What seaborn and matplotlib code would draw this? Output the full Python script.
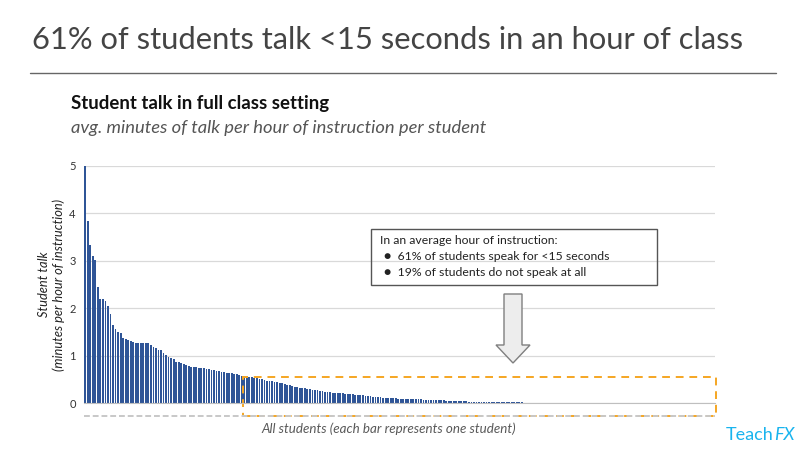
import numpy as np
import pandas as pd
import matplotlib
matplotlib.use("Agg")
import matplotlib.pyplot as plt
import seaborn as sns
from matplotlib.patches import Rectangle, Polygon

# minutes of talk per hour, one value per student (sorted)
talk = [
    5.00, 3.84, 3.33, 3.10, 3.02, 2.44, 2.20, 2.19, 2.16, 2.05,
    1.88, 1.65, 1.57, 1.50, 1.49, 1.37, 1.35, 1.34, 1.31, 1.29,
    1.28, 1.28, 1.28, 1.28, 1.28, 1.27, 1.22, 1.18, 1.17, 1.13,
    1.13, 1.06, 1.01, 0.97, 0.95, 0.94, 0.88, 0.86, 0.85, 0.82,
    0.80, 0.79, 0.77, 0.76, 0.76, 0.75, 0.74, 0.74, 0.73, 0.72,
    0.71, 0.70, 0.69, 0.68, 0.67, 0.65, 0.64, 0.64, 0.63, 0.62,
    0.61, 0.59, 0.58, 0.57, 0.57, 0.56, 0.55, 0.54, 0.53, 0.52,
    0.51, 0.49, 0.48, 0.47, 0.46, 0.45, 0.44, 0.43, 0.42, 0.41,
    0.39, 0.38, 0.36, 0.35, 0.34, 0.33, 0.33, 0.32, 0.31, 0.30,
    0.28, 0.27, 0.27, 0.26, 0.25, 0.24, 0.24, 0.23, 0.22, 0.22,
    0.21, 0.21, 0.21, 0.20, 0.20, 0.19, 0.19, 0.18, 0.18, 0.17,
    0.17, 0.16, 0.15, 0.15, 0.14, 0.14, 0.13, 0.13, 0.12, 0.12,
    0.11, 0.11, 0.11, 0.11, 0.10, 0.10, 0.10, 0.10, 0.09, 0.09,
    0.09, 0.09, 0.085, 0.085, 0.08, 0.08, 0.075, 0.075, 0.07, 0.07,
    0.065, 0.06, 0.06, 0.055, 0.055, 0.05, 0.05, 0.045, 0.045, 0.04,
    0.04, 0.04, 0.035, 0.035, 0.035, 0.03, 0.03, 0.03, 0.03, 0.03,
    0.03, 0.028, 0.028, 0.025, 0.025, 0.025, 0.025, 0.022, 0.022, 0.02,
    0.02, 0.02, 0.018, 0.018, 0.015, 0.015, 0.012, 0.01, 0.008, 0.005,
    0.003, 0.003, 0.003, 0.003, 0.003, 0.003, 0.003, 0.003, 0.003, 0.003,
    0.003, 0.003, 0.003, 0.003, 0.003, 0.003, 0.003, 0.003, 0.003, 0.003,
    0.003, 0.003, 0.003,
] + [0.0] * 47

yticks = [0, 1, 2, 3, 4, 5]

df = pd.DataFrame({"student": np.arange(len(talk)), "talk": talk})

sns.set_style("white")
plt.rcParams["font.family"] = ["Lato", "DejaVu Sans"]

fig = plt.figure(figsize=(8.01, 4.49), dpi=100)
W, H = 801, 449


def fx(x):
    return x / W


def fy(y):
    return 1 - y / H


ax = fig.add_axes([fx(84), fy(403.3), fx(715) - fx(84), fy(166) - fy(403.3)])
sns.barplot(data=df, x="student", y="talk", color="#2F5597", saturation=1,
            width=0.72, linewidth=0, ax=ax)

ax.set_xlim(-0.5, len(talk) - 0.5)
ax.set_ylim(0, 5)
ax.set_yticks(yticks)
ax.set_yticklabels([str(t) for t in yticks], fontsize=8, color="#333333")
ax.tick_params(axis="y", length=0, pad=6)
ax.set_xticks([])
ax.yaxis.grid(True, color="#D9D9D9", linewidth=0.9)
ax.set_axisbelow(True)
for s in ["top", "right", "left"]:
    ax.spines[s].set_visible(False)
ax.spines["bottom"].set_color("#BFBFBF")
ax.set_xlabel("")
ax.set_ylabel("Student talk\n(minutes per hour of instruction)", fontsize=9.3,
              style="italic", color="#222222", labelpad=3, linespacing=1.25)

# squashed category labels under the axis
ax.plot([-0.5, len(talk) - 0.5], [-0.27, -0.27], color="#C8C8C8", lw=1.4,
        ls=(0, (3, 1.5)), clip_on=False)

# orange dashed highlight box
ax.add_patch(Rectangle((62.5, -0.27), len(talk) - 0.1 - 62.5, 0.82, fill=False,
                       edgecolor="#F5A623", lw=1.4, ls=(0, (4, 3)), clip_on=False))

# title + rule
title = fig.text(fx(32), fy(40), "61% of students talk <15 seconds in an hour of class",
                 fontsize=22, color="#444444", va="center", ha="left")
fig.add_artist(plt.Line2D([fx(30), fx(776)], [fy(73), fy(73)], color="#666666", lw=1))

fig.text(fx(71), fy(103), "Student talk in full class setting", fontsize=13.4,
         weight="bold", color="#111111", va="center")
fig.text(fx(71), fy(128), "avg. minutes of talk per hour of instruction per student",
         fontsize=13.2, style="italic", color="#555555", va="center")

# callout box
fig.add_artist(Rectangle((fx(371), fy(285)), fx(657) - fx(371), fy(229) - fy(285),
                         transform=fig.transFigure, fill=False,
                         edgecolor="#555555", lw=1))
fig.text(fx(380), fy(241), "In an average hour of instruction:", fontsize=8.8,
         color="#222222", va="center")
fig.text(fx(384), fy(257), "\u25CF  61% of students speak for <15 seconds",
         fontsize=8.8, color="#222222", va="center")
fig.text(fx(384), fy(272), "\u25CF  19% of students do not speak at all",
         fontsize=8.8, color="#222222", va="center")

# block arrow
arrow_px = [(504, 294), (522, 294), (522, 345), (530, 345), (513, 363),
            (496, 345), (504, 345)]
fig.add_artist(Polygon([(fx(x), fy(y)) for x, y in arrow_px], closed=True,
                       transform=fig.transFigure, facecolor="#EDEDED",
                       edgecolor="#7F7F7F", lw=1))

fig.text(fx(389), fy(429), "All students (each bar represents one student)",
         fontsize=9.6, style="italic", color="#595959", ha="center", va="center")

teach = fig.text(fx(726), fy(435), "Teach", fontsize=13, color="#19B4EE", va="center")

# fit the title to the reference width and put "FX" right after "Teach"
fig.canvas.draw()
r = fig.canvas.get_renderer()
tw = title.get_window_extent(r).width
title.set_fontsize(22 * 708 / tw)
tb = teach.get_window_extent(r)
fig.text(tb.x1 / W, fy(435), "FX", fontsize=13, color="#19B4EE",
         va="center", style="italic")

fig.savefig("out.png", dpi=100)
